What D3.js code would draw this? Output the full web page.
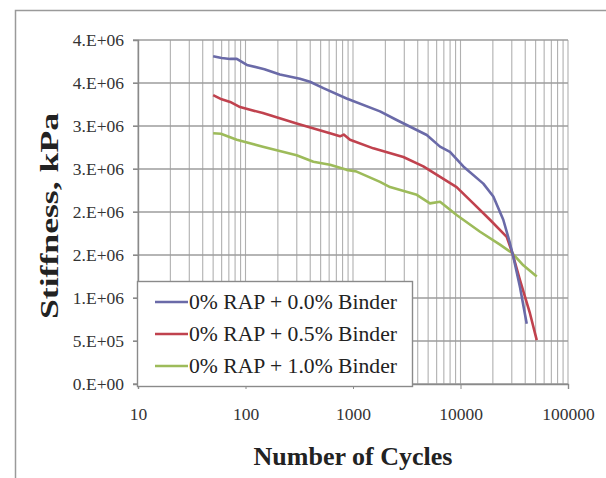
<!DOCTYPE html>
<html>
<head>
<meta charset="utf-8">
<script src="https://cdn.jsdelivr.net/npm/d3@7/dist/d3.min.js"></script>
<style>
  html, body { margin: 0; padding: 0; background: #ffffff; }
  svg { display: block; }
</style>
</head>
<body>
<svg id="chart" width="606" height="478"></svg>
<script>
// ---------- data ----------
const seriesNames = ["0% RAP + 0.0% Binder", "0% RAP + 0.5% Binder", "0% RAP + 1.0% Binder"];
const seriesColors = ["#6a6aa8", "#c0424e", "#9dbb5a"];

const cyclesA = [50, 60, 72, 83, 103, 150, 209, 321, 398, 530, 872, 1783, 2548, 4853, 6447, 7980, 10620, 16300, 20200, 25000, 28800, 31000, 35700, 41300];
const stiffA  = [3.81e6, 3.79e6, 3.78e6, 3.78e6, 3.71e6, 3.66e6, 3.60e6, 3.55e6, 3.515e6, 3.44e6, 3.32e6, 3.17e6, 3.07e6, 2.895e6, 2.76e6, 2.70e6, 2.53e6, 2.33e6, 2.18e6, 1.91e6, 1.64e6, 1.48e6, 1.13e6, 0.70e6];

const cyclesB = [50, 60, 72, 89, 145, 299, 611, 757, 820, 938, 1545, 2940, 4510, 9200, 13150, 18800, 26900, 30400, 35700, 44300, 51200];
const stiffB  = [3.36e6, 3.31e6, 3.28e6, 3.22e6, 3.15e6, 3.03e6, 2.915e6, 2.88e6, 2.90e6, 2.84e6, 2.74e6, 2.64e6, 2.53e6, 2.29e6, 2.10e6, 1.91e6, 1.71e6, 1.52e6, 1.21e6, 0.82e6, 0.51e6];

const cyclesC = [50, 59, 83, 145, 299, 428, 611, 872, 1080, 1783, 2208, 3920, 5200, 6450, 9200, 15200, 23300, 30400, 38400, 51200];
const stiffC  = [2.915e6, 2.91e6, 2.84e6, 2.76e6, 2.66e6, 2.585e6, 2.55e6, 2.49e6, 2.47e6, 2.35e6, 2.29e6, 2.20e6, 2.10e6, 2.12e6, 1.965e6, 1.77e6, 1.62e6, 1.52e6, 1.38e6, 1.25e6];

const yTickValues = [0, 0.5e6, 1.0e6, 1.5e6, 2.0e6, 2.5e6, 3.0e6, 3.5e6, 4.0e6];
const yTickLabels = ["0.E+00", "5.E+05", "1.E+06", "2.E+06", "2.E+06", "3.E+06", "3.E+06", "4.E+06", "4.E+06"];
const xTickValues = [10, 100, 1000, 10000, 100000];
const xTickLabels = ["10", "100", "1000", "10000", "100000"];

const SERIF = "'Liberation Serif', 'Times New Roman', 'DejaVu Serif', serif";

// ---------- layout ----------
const svg = d3.select("#chart");
const plot = { left: 138, right: 568, top: 40, bottom: 384 };

const x = d3.scaleLog().domain([10, 100000]).range([plot.left, plot.right]);
const y = d3.scaleLinear().domain([0, 4.0e6]).range([plot.bottom, plot.top]);

// outer frame
svg.append("rect")
  .attr("x", 15.5).attr("y", 10.5).attr("width", 620).attr("height", 500)
  .attr("fill", "none").attr("stroke", "#9a9a9a").attr("stroke-width", 1.5);

// vertical minor grid (log)
const minorX = [];
for (let d = 10; d < 100000; d *= 10) for (let k = 1; k < 10; k++) minorX.push(d * k);
minorX.push(100000);
svg.append("g").selectAll("line").data(minorX).join("line")
  .attr("x1", d => x(d)).attr("x2", d => x(d))
  .attr("y1", plot.top).attr("y2", plot.bottom)
  .attr("stroke", "#b0b0b0").attr("stroke-width", 1.1);

// horizontal grid
svg.append("g").selectAll("line").data(yTickValues).join("line")
  .attr("x1", plot.left - 5).attr("x2", plot.right)
  .attr("y1", d => y(d)).attr("y2", d => y(d))
  .attr("stroke", "#9c9c9c").attr("stroke-width", 1.5);

// axes
const yAxis = d3.axisLeft(y).tickValues(yTickValues)
  .tickFormat((d, i) => yTickLabels[i]).tickSize(5).tickPadding(9);
const gy = svg.append("g").attr("transform", `translate(${plot.left},0)`).call(yAxis);
gy.select(".domain").attr("stroke", "#8a8a8a").attr("stroke-width", 1.4);
gy.selectAll(".tick line").attr("stroke", "#8a8a8a");
gy.selectAll("text").style("font-family", SERIF).style("font-size", "17.5px").attr("fill", "#333");

const xAxis = d3.axisBottom(x).tickValues(xTickValues)
  .tickFormat((d, i) => xTickLabels[i]).tickSize(5).tickPadding(19);
const gx = svg.append("g").attr("transform", `translate(0,${plot.bottom})`).call(xAxis);
gx.select(".domain").attr("stroke", "#8a8a8a").attr("stroke-width", 1.4);
gx.selectAll(".tick line").attr("stroke", "#8a8a8a");
gx.selectAll("text").style("font-family", SERIF).style("font-size", "17.5px").attr("fill", "#333");

// series lines
const line = d3.line().x(d => x(d[0])).y(d => y(d[1])).curve(d3.curveLinear);
const seriesData = [
  d3.zip(cyclesA, stiffA),
  d3.zip(cyclesB, stiffB),
  d3.zip(cyclesC, stiffC)
];
[2, 1, 0].forEach(i => {
  svg.append("path").datum(seriesData[i])
    .attr("d", line)
    .attr("fill", "none")
    .attr("stroke", seriesColors[i])
    .attr("stroke-width", 2.6)
    .attr("stroke-linejoin", "round");
});

// legend
const lg = svg.append("g");
lg.append("rect")
  .attr("x", 137.5).attr("y", 281.5).attr("width", 275).attr("height", 105)
  .attr("fill", "#ffffff").attr("stroke", "#8a8a8a").attr("stroke-width", 1.4);
const legY = [302, 334, 366];
seriesNames.forEach((name, i) => {
  lg.append("line")
    .attr("x1", 155).attr("x2", 188)
    .attr("y1", legY[i]).attr("y2", legY[i])
    .attr("stroke", seriesColors[i]).attr("stroke-width", 2.6);
  lg.append("text")
    .attr("x", 189).attr("y", legY[i] + 7)
    .style("font-family", SERIF).style("font-size", "22px")
    .attr("fill", "#222")
    .attr("textLength", 208).attr("lengthAdjust", "spacingAndGlyphs")
    .text(name);
});

// axis titles
svg.append("text")
  .attr("x", (plot.left + plot.right) / 2).attr("y", 465)
  .attr("text-anchor", "middle")
  .style("font-family", SERIF).style("font-size", "26px").style("font-weight", "bold")
  .attr("fill", "#222")
  .text("Number of Cycles");

svg.append("text")
  .attr("transform", "translate(58,216) rotate(-90)")
  .attr("text-anchor", "middle")
  .style("font-family", SERIF).style("font-size", "26px").style("font-weight", "bold")
  .attr("fill", "#222")
  .attr("textLength", 206).attr("lengthAdjust", "spacingAndGlyphs")
  .text("Stiffness, kPa");
</script>
</body>
</html>
